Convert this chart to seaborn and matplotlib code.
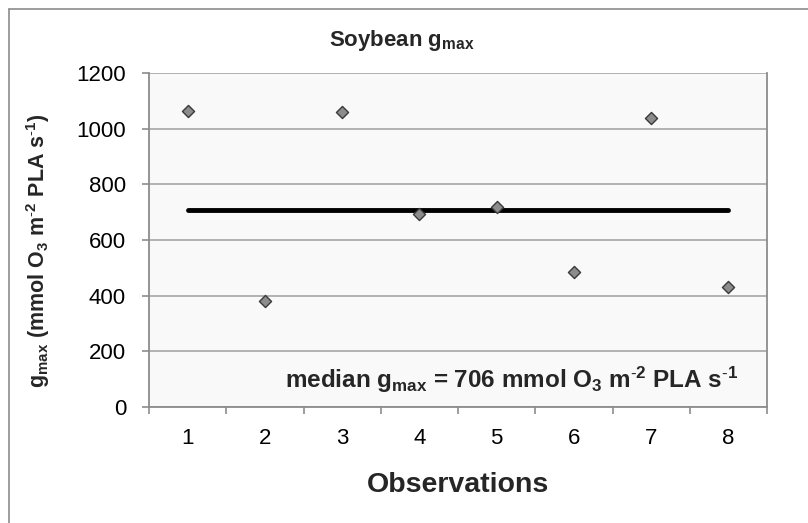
import numpy as np
import pandas as pd
import matplotlib
matplotlib.use("Agg")
import matplotlib.pyplot as plt
from matplotlib.lines import Line2D
import seaborn as sns

observations = [1, 2, 3, 4, 5, 6, 7, 8]
gmax_values = [1064, 380, 1060, 695, 717, 485, 1040, 431]
median_gmax = 706
y_ticks = [0, 200, 400, 600, 800, 1000, 1200]

sns.set_theme(style="white")
plt.rcParams['font.family'] = ['Liberation Sans', 'DejaVu Sans']
plt.rcParams['mathtext.fontset'] = 'custom'
plt.rcParams['mathtext.rm'] = 'Liberation Sans'
plt.rcParams['mathtext.bf'] = 'Liberation Sans:bold'
plt.rcParams['mathtext.it'] = 'Liberation Sans:italic'
plt.rcParams['mathtext.default'] = 'bf'

df = pd.DataFrame({"obs": observations, "gmax": gmax_values})
med_df = pd.DataFrame({"obs": [observations[0], observations[-1]],
                       "gmax": [median_gmax, median_gmax]})

fig = plt.figure(figsize=(8.08, 5.23), dpi=100)
ax = fig.add_axes([149/808, 1-407/523, (767-149)/808, (407-73)/523])
ax.set_facecolor('#f9f9f9')

ax.set_axisbelow(True)
ax.yaxis.grid(True, color='#a6a6a6', linewidth=1.2)
ax.xaxis.grid(False)

sns.lineplot(data=med_df, x="obs", y="gmax", ax=ax, color='black',
             linewidth=3.5, solid_capstyle='round', zorder=3)
sns.scatterplot(data=df, x="obs", y="gmax", ax=ax, marker='D', s=38,
                color='#8c8c8c', edgecolor='#3a3a3a', linewidth=1.0, zorder=4)

ax.set_xlim(0.5, 8.5)
ax.set_ylim(0, 1200)
ax.set_yticks(y_ticks)
ax.set_yticklabels([str(t) for t in y_ticks])
ax.set_xticks(observations)
ax.set_xticklabels([str(o) for o in observations])
ax.set_xticks([o + 0.5 for o in [0] + observations], minor=True)

for s in ['left', 'bottom', 'right']:
    ax.spines[s].set_visible(True)
    ax.spines[s].set_color('#8c8c8c')
    ax.spines[s].set_linewidth(1.3)
ax.spines['top'].set_visible(False)

ax.tick_params(axis='y', which='major', left=True, length=5, width=1.2,
               color='#8c8c8c', labelsize=16, pad=11.5, labelcolor='black')
ax.tick_params(axis='x', which='major', bottom=False, length=0,
               labelsize=16, pad=15, labelcolor='black')
ax.tick_params(axis='x', which='minor', bottom=True, length=5, width=1.2,
               color='#8c8c8c')

ax.set_xlabel("Observations", fontsize=20.5, fontweight='bold', labelpad=17)
ax.set_ylabel(r"$g_{max}$ (mmol O$_{3}$ m$^{\text{-}2}$ PLA s$^{\text{-}1}$)",
              fontsize=15.5, fontweight='bold')
ax.yaxis.set_label_coords(-0.157, 0.467)

ax.text(0.954, 0.057,
        r"median $g_{max}$ = 706 mmol O$_{3}$ m$^{\text{-}2}$ PLA s$^{\text{-}1}$",
        transform=ax.transAxes, ha='right', va='baseline',
        fontsize=17.5, fontweight='bold')

fig.text(0.497, 1-46/523, r"Soybean $g_{max}$", ha='center', va='baseline',
         fontsize=16, fontweight='bold')

border = '#8c8c8c'
fig.add_artist(Line2D([9/808, 9/808], [-0.1, 1-9/523], transform=fig.transFigure,
                      color=border, linewidth=1.2))
fig.add_artist(Line2D([9/808, 1.1], [1-9/523, 1-9/523], transform=fig.transFigure,
                      color=border, linewidth=1.2))

fig.savefig("out.png", dpi=100, facecolor='white')
